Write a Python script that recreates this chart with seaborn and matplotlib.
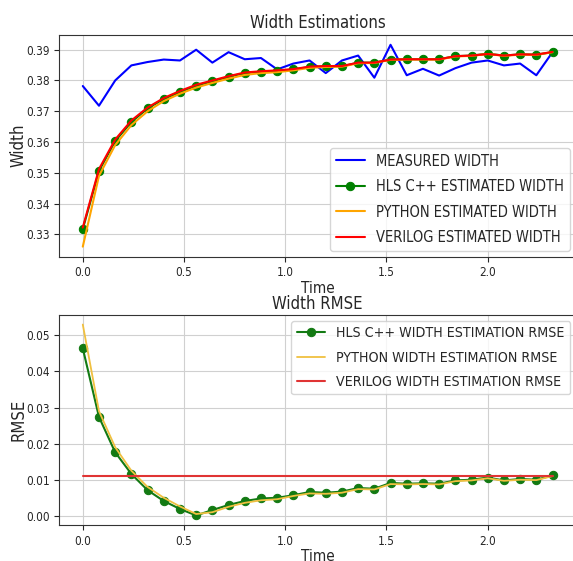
import numpy as np
import pandas as pd
import seaborn as sns
import matplotlib
matplotlib.use("Agg")
import matplotlib.pyplot as plt

# ---------------- data ----------------
time = [0.00, 0.08, 0.16, 0.24, 0.32, 0.40, 0.48, 0.56, 0.64, 0.72,
        0.80, 0.88, 0.96, 1.04, 1.12, 1.20, 1.28, 1.36, 1.44, 1.52,
        1.60, 1.68, 1.76, 1.84, 1.92, 2.00, 2.08, 2.16, 2.24, 2.32]

measured_width = [0.3782, 0.3718, 0.3800, 0.3849, 0.3860, 0.3868, 0.3865, 0.3900, 0.3858, 0.3892,
                  0.3869, 0.3873, 0.3836, 0.3855, 0.3865, 0.3824, 0.3865, 0.3881, 0.3809, 0.3916,
                  0.3817, 0.3838, 0.3816, 0.3840, 0.3858, 0.3865, 0.3849, 0.3855, 0.3817, 0.3892]

hls_width = [0.3317, 0.3506, 0.3603, 0.3665, 0.3709, 0.3740, 0.3762, 0.3783, 0.3797, 0.3812,
             0.3824, 0.3829, 0.3831, 0.3836, 0.3844, 0.3846, 0.3846, 0.3858, 0.3858, 0.3868,
             0.3869, 0.3869, 0.3869, 0.3879, 0.3881, 0.3887, 0.3881, 0.3885, 0.3884, 0.3892]

python_width = [0.3260, 0.3490, 0.3590, 0.3655, 0.3700, 0.3733, 0.3757, 0.3777, 0.3792, 0.3806,
                0.3818, 0.3824, 0.3827, 0.3833, 0.3841, 0.3844, 0.3845, 0.3856, 0.3857, 0.3867,
                0.3868, 0.3868, 0.3868, 0.3878, 0.3880, 0.3886, 0.3880, 0.3884, 0.3883, 0.3892]

verilog_width = [0.3322, 0.3512, 0.3608, 0.3670, 0.3712, 0.3743, 0.3766, 0.3786, 0.3800, 0.3814,
                 0.3826, 0.3830, 0.3833, 0.3837, 0.3845, 0.3847, 0.3847, 0.3858, 0.3858, 0.3868,
                 0.3869, 0.3869, 0.3869, 0.3879, 0.3881, 0.3886, 0.3881, 0.3885, 0.3884, 0.3893]

hls_rmse = [0.0464, 0.0274, 0.0176, 0.0116, 0.0071, 0.0041, 0.0019, 0.0001, 0.0016, 0.0030,
            0.0041, 0.0048, 0.0050, 0.0057, 0.0066, 0.0064, 0.0067, 0.0077, 0.0075, 0.0091,
            0.0089, 0.0090, 0.0089, 0.0098, 0.0100, 0.0106, 0.0098, 0.0102, 0.0100, 0.0112]

python_rmse = [0.0530, 0.0290, 0.0190, 0.0125, 0.0080, 0.0050, 0.0026, 0.0005, 0.0010, 0.0025,
               0.0036, 0.0043, 0.0046, 0.0055, 0.0062, 0.0061, 0.0064, 0.0074, 0.0073, 0.0088,
               0.0087, 0.0088, 0.0087, 0.0096, 0.0098, 0.0104, 0.0097, 0.0100, 0.0099, 0.0110]

verilog_rmse = [0.0111] * len(time)

top_labels = ["MEASURED WIDTH", "HLS C++ ESTIMATED WIDTH",
              "PYTHON ESTIMATED WIDTH", "VERILOG ESTIMATED WIDTH"]
bottom_labels = ["HLS C++ WIDTH ESTIMATION RMSE", "PYTHON WIDTH ESTIMATION RMSE",
                 "VERILOG WIDTH ESTIMATION RMSE"]

# ---------------- style ----------------
sns.set_style("ticks", {"axes.grid": True, "grid.color": "#d0d0d0",
                        "axes.edgecolor": "#222222"})
plt.rcParams["font.family"] = ["DejaVu Sans"]
plt.rcParams["font.stretch"] = "condensed"

W, H = 573, 561
fig = plt.figure(figsize=(W / 100, H / 100), dpi=100)

ax1 = fig.add_axes([59.3 / W, 1 - 256.7 / H, 516.7 / W, 222 / H])
ax2 = fig.add_axes([59.3 / W, 1 - 525 / H, 516.7 / W, 210 / H])

sns.lineplot(x=time, y=measured_width, ax=ax1, color="blue", lw=1.5, label=top_labels[0])
sns.lineplot(x=time, y=hls_width, ax=ax1, color="green", lw=1.5, marker="o",
             markersize=6, markeredgecolor="green", label=top_labels[1])
sns.lineplot(x=time, y=python_width, ax=ax1, color="orange", lw=1.5, label=top_labels[2])
sns.lineplot(x=time, y=verilog_width, ax=ax1, color="red", lw=1.5, label=top_labels[3])

ax1.set_title("Width Estimations", fontsize=12, pad=5)
ax1.set_xlabel("Time", fontsize=11, labelpad=1)
ax1.set_ylabel("Width", fontsize=12)
ax1.yaxis.set_label_coords(-0.0625, 0.5)
ax1.legend(loc="lower right", fontsize=10.5, framealpha=0.8, borderaxespad=0.4,
           labelspacing=0.72)
ax1.set_xticks([0.0, 0.5, 1.0, 1.5, 2.0])
ax1.set_yticks([0.33, 0.34, 0.35, 0.36, 0.37, 0.38, 0.39])

sns.lineplot(x=time, y=hls_rmse, ax=ax2, color="#137a13", lw=1.5, marker="o",
             markersize=6, markeredgecolor="#137a13", label=bottom_labels[0])
sns.lineplot(x=time, y=python_rmse, ax=ax2, color="#f0c040", lw=1.3, label=bottom_labels[1])
sns.lineplot(x=time, y=verilog_rmse, ax=ax2, color="#e03434", lw=1.5, label=bottom_labels[2])

ax2.set_title("Width RMSE", fontsize=12, pad=4)
ax2.set_xlabel("Time", fontsize=11, labelpad=1)
ax2.set_ylabel("RMSE", fontsize=12)
ax2.yaxis.set_label_coords(-0.0625, 0.5)
ax2.legend(loc="upper right", fontsize=10.2, framealpha=0.8, borderaxespad=0.4,
           labelspacing=0.72)
ax2.set_xticks([0.0, 0.5, 1.0, 1.5, 2.0])
ax2.set_yticks([0.00, 0.01, 0.02, 0.03, 0.04, 0.05])

for ax in (ax1, ax2):
    ax.tick_params(labelsize=8.5)
    for s in ax.spines.values():
        s.set_visible(True)
        s.set_color("#333333")

fig.savefig("out.png", dpi=100)
